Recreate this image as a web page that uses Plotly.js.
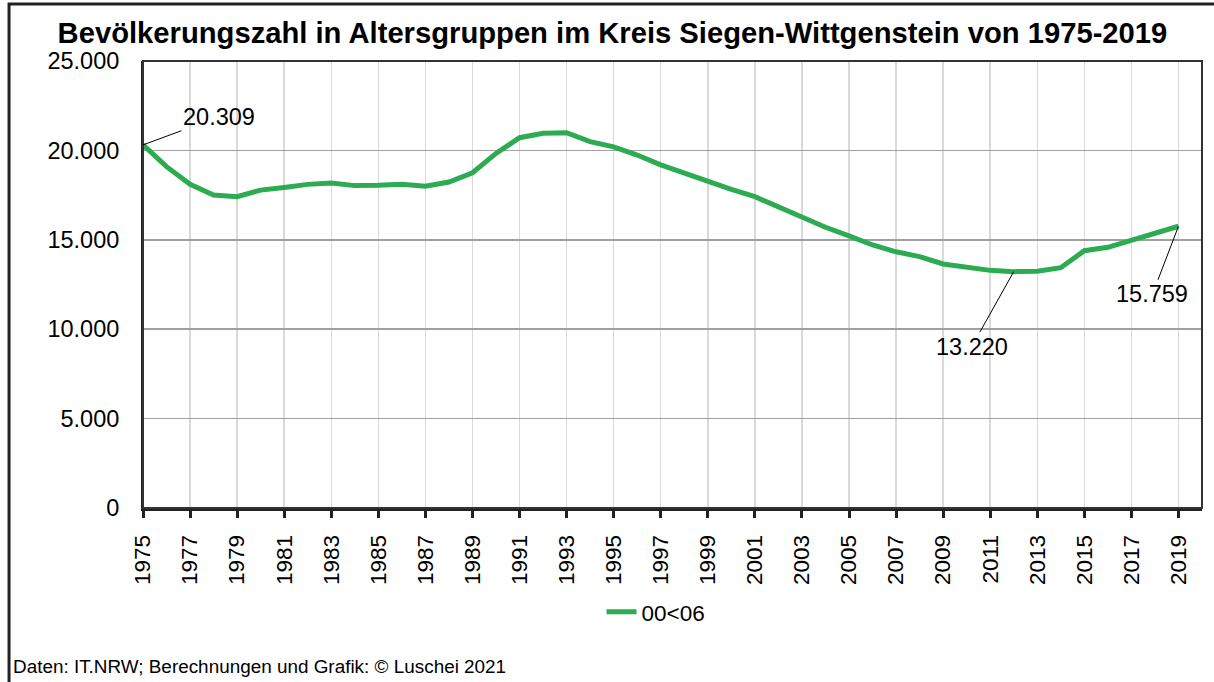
<!DOCTYPE html>
<html>
<head>
<meta charset="utf-8">
<script src="https://cdn.plot.ly/plotly-3.0.1.min.js"></script>
<style>
html,body{margin:0;padding:0;background:#fff;}
#chart{width:1214px;height:682px;}
</style>
</head>
<body>
<div id="chart"></div>
<script>
// Data
const years = [1975,1976,1977,1978,1979,1980,1981,1982,1983,1984,1985,1986,1987,1988,1989,
  1990,1991,1992,1993,1994,1995,1996,1997,1998,1999,2000,2001,2002,2003,2004,
  2005,2006,2007,2008,2009,2010,2011,2012,2013,2014,2015,2016,2017,2018,2019];
const age0to6 = [20309,19090,18100,17500,17410,17780,17930,18100,18170,18030,18050,18110,18000,18230,18750,
  19830,20710,20960,20990,20490,20200,19740,19190,18720,18250,17820,17410,16850,16290,15700,
  15220,14710,14330,14060,13650,13440,13290,13220,13240,13440,14390,14580,14990,15420,15759];
const seriesName = "00<06";
const titleText = "Bevölkerungszahl in Altersgruppen im Kreis Siegen-Wittgenstein von 1975-2019";
const sourceText = "Daten: IT.NRW; Berechnungen und Grafik: © Luschei 2021";
const labelled = [
  {year:1975, value:20309, text:"20.309", ax:76, ay:-28},
  {year:2012, value:13220, text:"13.220", ax:-42, ay:75},
  {year:2019, value:15759, text:"15.759", ax:-26, ay:68}
];

const font = "Arial, 'Liberation Sans', sans-serif";
const green = "#2dab52";

const trace = {
  x: years, y: age0to6, type: "scatter", mode: "lines", name: seriesName,
  line: {color: green, width: 5}, showlegend: true
};

const annotations = labelled.map(l => ({
  x: l.year, y: l.value, xref: "x", yref: "y", text: l.text,
  showarrow: true, arrowhead: 0, arrowwidth: 1, arrowcolor: "#000",
  ax: l.ax, ay: l.ay, font: {family: font, size: 23.5, color: "#000"},
  bgcolor: "rgba(255,255,255,0)", standoff: 0, startstandoff: 0
}));
annotations.push({
  xref: "paper", yref: "paper", x: -0.1245, y: -0.3535, xanchor: "left", yanchor: "middle",
  text: sourceText, showarrow: false, font: {family: font, size: 18.9, color: "#000"}
});

const layout = {
  width: 1214, height: 682,
  margin: {l: 143, r: 12, t: 61, b: 174},
  paper_bgcolor: "#fff", plot_bgcolor: "#fff",
  separators: ",.",
  font: {family: font, color: "#000"},
  title: {text: "<b>" + titleText + "</b>", font: {family: font, size: 29.2, color: "#000"},
    x: 0.5045, xref: "container", xanchor: "center", y: 0.952, yref: "container", yanchor: "middle"},
  xaxis: {
    range: [1975, 2020], tickmode: "linear", tick0: 1975, dtick: 2,
    tickangle: -90, tickfont: {family: font, size: 22.5, color: "#000"},
    showgrid: true, gridcolor: "#d9d9d9", gridwidth: 1.5,
    showline: true, linecolor: "#222", linewidth: 3,
    ticks: "outside", ticklen: 7, tickwidth: 3, tickcolor: "#222",
    ticklabelstandoff: 8, zeroline: false, fixedrange: true
  },
  yaxis: {
    range: [0, 25000], tickmode: "linear", tick0: 0, dtick: 5000, tickformat: ",d",
    tickfont: {family: font, size: 23.5, color: "#000"},
    showgrid: true, gridcolor: "#a0a0a0", gridwidth: 1.5,
    showline: true, linecolor: "#222", linewidth: 2,
    ticks: "", ticklabelstandoff: 17, zeroline: false, fixedrange: true
  },
  showlegend: true,
  legend: {orientation: "h", x: 0.433, xanchor: "left", y: -0.233, yanchor: "middle",
    font: {family: font, size: 22.5, color: "#000"}, bgcolor: "rgba(0,0,0,0)"},
  annotations: annotations,
  shapes: [
    {type: "rect", xref: "paper", yref: "paper", x0: 0, x1: 1, y0: 0, y1: 1,
      line: {color: "#333", width: 2}, fillcolor: "rgba(0,0,0,0)", layer: "above"},
    {type: "path", xref: "paper", yref: "paper",
      path: "M -0.1265 -0.5 L -0.1265 1.1275 L 1.2 1.1275",
      line: {color: "#222", width: 3}}
  ]
};

Plotly.newPlot("chart", [trace], layout, {displayModeBar: false, staticPlot: true});
</script>
</body>
</html>
